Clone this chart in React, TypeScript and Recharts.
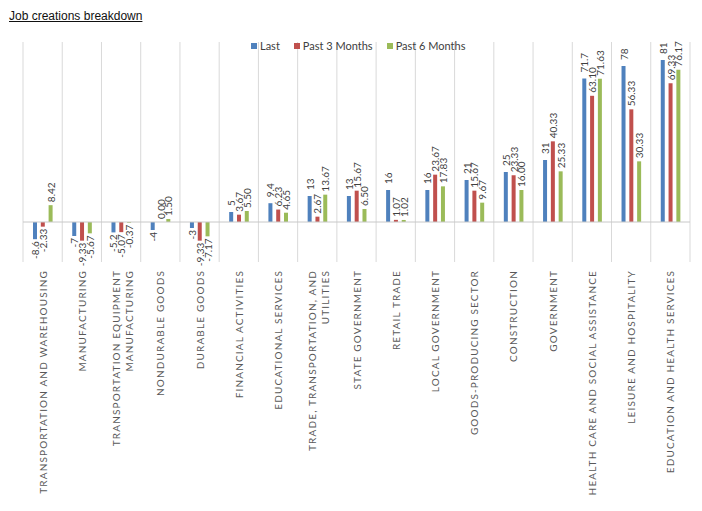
import React from 'react'
import {
  BarChart,
  Bar,
  XAxis,
  YAxis,
  CartesianGrid,
  ReferenceLine,
  Legend,
  LabelList,
} from 'recharts'

const categories = [
  'TRANSPORTATION AND WAREHOUSING',
  'MANUFACTURING',
  'TRANSPORTATION EQUIPMENT MANUFACTURING',
  'NONDURABLE GOODS',
  'DURABLE GOODS',
  'FINANCIAL ACTIVITIES',
  'EDUCATIONAL SERVICES',
  'TRADE, TRANSPORTATION, AND UTILITIES',
  'STATE GOVERNMENT',
  'RETAIL TRADE',
  'LOCAL GOVERNMENT',
  'GOODS-PRODUCING SECTOR',
  'CONSTRUCTION',
  'GOVERNMENT',
  'HEALTH CARE AND SOCIAL ASSISTANCE',
  'LEISURE AND HOSPITALITY',
  'EDUCATION AND HEALTH SERVICES',
]

const lastValues = [-8.6, -7, -5.2, -4, -3, 5, 9.4, 13, 13, 16, 16, 21, 25, 31, 71.7, 78, 81]
const past3Values = [-2.33, -9.33, -5.07, 0, -9.33, 3.67, 6.23, 2.67, 15.67, 1.07, 23.67, 15.67, 23.33, 40.33, 63.1, 56.33, 69.33]
const past6Values = [8.42, -5.67, -0.37, 1.5, -7.17, 5.5, 4.65, 13.67, 6.5, 1.02, 17.83, 9.67, 16, 25.33, 71.63, 30.33, 76.17]

const seriesNames = ['Last', 'Past 3 Months', 'Past 6 Months']
const seriesColors = ['#4F81BD', '#C0504D', '#9BBB59']

const data = categories.map((name, i) => ({
  name,
  last: lastValues[i],
  past3: past3Values[i],
  past6: past6Values[i],
}))

const FONT = 'Lato, "Open Sans", sans-serif'

// split long category names into two lines, like the original axis
function wrapLabel(text: string, max = 34): string[] {
  if (text.length <= max) return [text]
  const words = text.split(' ')
  const lines: string[] = []
  let cur = ''
  for (const w of words) {
    const next = cur ? cur + ' ' + w : w
    if (next.length > 26 && cur) {
      lines.push(cur)
      cur = w
    } else {
      cur = next
    }
  }
  if (cur) lines.push(cur)
  return lines
}

function CategoryTick(props: any) {
  const { x, y, payload } = props
  const lines = wrapLabel(String(payload.value))
  const lineGap = 13
  const startX = x - ((lines.length - 1) * lineGap) / 2 + (lines.length > 1 ? 1 : 0)
  return (
    <g>
      {lines.map((line, i) => {
        const lx = startX + i * lineGap
        return (
          <text
            key={i}
            x={lx}
            y={y}
            transform={`rotate(-90, ${lx}, ${y})`}
            textAnchor="end"
            dominantBaseline="central"
            fontSize={10}
            letterSpacing={1.15}
            fontFamily={FONT}
            fill="#595959"
          >
            {line}
          </text>
        )
      })}
    </g>
  )
}

function makeValueLabel(format: (v: number) => string, posGap: number) {
  return function ValueLabel(props: any) {
    const { x, y, width, height, value } = props
    if (value === undefined || value === null) return null
    const v = Number(value)
    const top = Math.min(y, y + height)
    const bottom = Math.max(y, y + height)
    const cx = x + width / 2
    const ly = v >= 0 ? top - posGap : bottom + 2
    return (
      <text
        x={cx}
        y={ly}
        transform={`rotate(-90, ${cx}, ${ly})`}
        textAnchor={v >= 0 ? 'start' : 'end'}
        dominantBaseline="central"
        fontSize={10}
        fontFamily={FONT}
        fill="#404040"
      >
        {format(v)}
      </text>
    )
  }
}

const formatLast = (v: number) => String(v)
const formatFixed = (v: number) => v.toFixed(2)

function LegendContent() {
  return (
    <div style={{ display: 'flex', alignItems: 'center', fontFamily: FONT, fontSize: 11, color: '#404040' }}>
      {seriesNames.map((n, i) => (
        <div key={n} style={{ display: 'flex', alignItems: 'center', marginRight: 14 }}>
          <span style={{ width: 6, height: 6, background: seriesColors[i], display: 'inline-block', marginRight: 3 }} />
          <span>{n}</span>
        </div>
      ))}
    </div>
  )
}

export default function App() {
  return (
    <div style={{ position: 'absolute', left: 0, top: 0, width: 702, height: 511, background: '#fff' }}>
      <div
        style={{
          position: 'absolute',
          left: 9,
          top: 9,
          fontFamily: '"Liberation Sans", Arial, sans-serif',
          fontSize: 12,
          textDecoration: 'underline',
          color: '#111',
          zIndex: 2,
        }}
      >
        Job creations breakdown
      </div>
      <BarChart
        width={702}
        height={511}
        data={data}
        margin={{ top: 42, right: 12, left: 23, bottom: 9 }}
        barSize={4}
        barGap={3.8}
      >
        <CartesianGrid
          horizontal={false}
          stroke="#d9d9d9"
          verticalCoordinatesGenerator={({ offset }: any) =>
            Array.from({ length: categories.length + 1 }, (_, i) => offset.left + (i * offset.width) / categories.length)
          }
        />
        <XAxis
          dataKey="name"
          interval={0}
          axisLine={false}
          tickLine={false}
          height={240}
          tick={<CategoryTick />}
        />
        <YAxis hide domain={[-20, 90]} />
        <ReferenceLine y={0} stroke="#c8c8c8" />
        <Legend
          verticalAlign="middle"
          align="center"
          layout="horizontal"
          wrapperStyle={{ top: 39, left: 251, width: 240 }}
          content={<LegendContent />}
        />
        <Bar dataKey="last" name={seriesNames[0]} fill={seriesColors[0]} minPointSize={0.01} isAnimationActive={false}>
          <LabelList dataKey="last" content={makeValueLabel(formatLast, 6)} />
        </Bar>
        <Bar dataKey="past3" name={seriesNames[1]} fill={seriesColors[1]} minPointSize={0.01} isAnimationActive={false}>
          <LabelList dataKey="past3" content={makeValueLabel(formatFixed, 3)} />
        </Bar>
        <Bar dataKey="past6" name={seriesNames[2]} fill={seriesColors[2]} minPointSize={0.01} isAnimationActive={false}>
          <LabelList dataKey="past6" content={makeValueLabel(formatFixed, 3)} />
        </Bar>
      </BarChart>
    </div>
  )
}
